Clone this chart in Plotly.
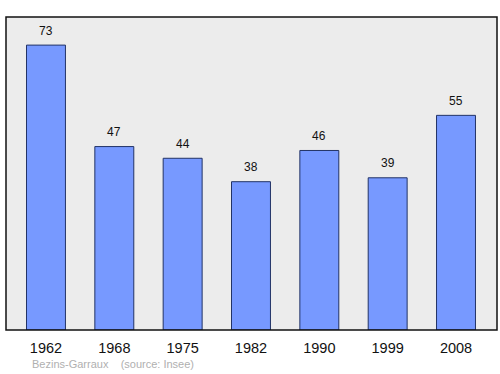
import plotly.graph_objects as go

years = ["1962", "1968", "1975", "1982", "1990", "1999", "2008"]
population = [73, 47, 44, 38, 46, 39, 55]
source_text = "Bezins-Garraux&nbsp;&nbsp;&nbsp;&nbsp;(source: Insee)"

fig = go.Figure()
fig.add_trace(go.Bar(
    x=list(range(len(years))), y=population,
    width=0.57,
    marker=dict(color="#7799ff", line=dict(color="#223366", width=1)),
    hoverinfo="skip",
))

for i, v in enumerate(population):
    fig.add_annotation(x=i, y=v, text=str(v), showarrow=False, yshift=14.5,
                       font=dict(size=12, color="#111111"))

fig.add_annotation(xref="paper", yref="paper", x=0.049, y=-0.108, xanchor="left", yanchor="middle",
                   text=source_text, showarrow=False,
                   font=dict(size=11, color="#b0b0b0"))

fig.add_shape(type="rect", xref="paper", yref="paper", x0=0, y0=0, x1=1, y1=1,
              line=dict(color="#111111", width=1.5), layer="above")

fig.update_layout(
    width=500, height=374,
    margin=dict(l=5.5, r=3, t=17, b=44),
    paper_bgcolor="white",
    plot_bgcolor="#ececec",
    font=dict(family="Liberation Sans, Arial, sans-serif"),
    showlegend=False,
    xaxis=dict(range=[-0.585, 6.6], tickmode="array", tickvals=list(range(len(years))),
               ticktext=years, showgrid=False, zeroline=False, ticks="",
               ticklabelstandoff=7,
               tickfont=dict(size=14.5, color="#111111"), fixedrange=True),
    yaxis=dict(range=[0, 80.2], showgrid=False, zeroline=False, showticklabels=False,
               fixedrange=True),
)

fig.write_html("out.html")
